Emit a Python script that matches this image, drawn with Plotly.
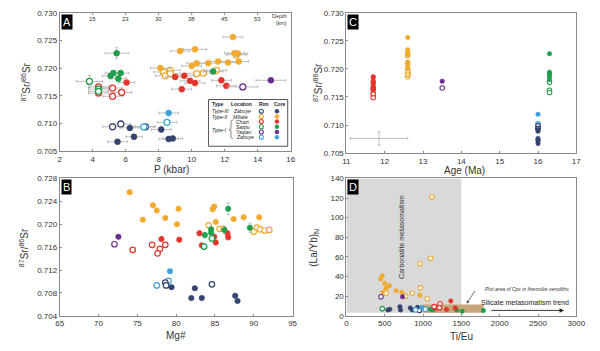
import plotly.graph_objects as go

# ---------------- colours ----------------
C_NAVY = "#34446f"
C_ORANGE = "#f0aa2e"
C_RED = "#e5352b"
C_GREEN = "#1f9e4c"
C_PURPLE = "#6a2c8e"
C_LBLUE = "#3ea2da"
C_ERR = "#b0b0b0"

# ---------------- Panel A : P (kbar) vs 87Sr/86Sr ----------------
a_zab3_core_p = [6.25, 8.15, 6.5, 5.5, 8.6, 8.85]
a_zab3_core_sr = [0.7092, 0.7089, 0.7076, 0.7067, 0.7072, 0.7073]
a_zab3_core_pe = [0.6, 0.6, 0.5, 0.6, 0.6, 0.6]
a_zab3_core_se = [0.0004, 0.0004, 0.0004, 0.0004, 0.0004, 0.0004]
a_zab3_rim_p = [5.2, 5.7, 7.2]
a_zab3_rim_sr = [0.7094, 0.7099, 0.7094]
a_zab3_rim_pe = [0.6, 0.6, 0.6]
a_zab3_rim_se = [0.0005, 0.0005, 0.0004]

a_mib_core_p = [12.5, 9.3, 10.2, 8.1, 10.0, 10.3, 11.0, 11.6, 12.2, 12.85, 12.6, 12.8]
a_mib_core_sr = [0.7256, 0.7231, 0.7234, 0.7200, 0.7204, 0.7209, 0.7209, 0.7212, 0.7210, 0.7212, 0.7227, 0.7226]
a_mib_core_pe = [0.6, 0.6, 0.7, 0.6, 0.6, 0.6, 0.6, 0.6, 0.6, 0.6, 0.6, 0.6]
a_mib_core_se = [0.0003, 0.0003, 0.0003, 0.0004, 0.0003, 0.0003, 0.0003, 0.0003, 0.0003, 0.0003, 0.0005, 0.0005]
a_mib_rim_p = [8.3, 8.4, 8.7, 8.7, 10.3, 10.7, 11.5, 12.7]
a_mib_rim_sr = [0.7193, 0.7186, 0.7196, 0.7190, 0.7190, 0.7191, 0.7196, 0.7224]
a_mib_rim_pe = [0.6, 0.6, 0.6, 0.6, 0.6, 0.6, 0.6, 0.6]
a_mib_rim_se = [0.0004, 0.0004, 0.0004, 0.0004, 0.0004, 0.0004, 0.0004, 0.0004]

a_cha_core_p = [6.05, 9.0, 9.55, 9.4, 9.9, 10.2, 11.8, 12.1]
a_cha_core_sr = [0.7174, 0.7184, 0.7186, 0.7162, 0.7177, 0.7173, 0.7178, 0.7168]
a_cha_core_pe = [0.5, 0.6, 0.6, 0.6, 0.6, 0.6, 0.6, 0.6]
a_cha_core_se = [0.0004, 0.0004, 0.0004, 0.0004, 0.0004, 0.0004, 0.0004, 0.0004]
a_cha_rim_p = [4.35, 4.35, 5.2, 5.2, 5.75]
a_cha_rim_sr = [0.7166, 0.7155, 0.7164, 0.7149, 0.7156]
a_cha_rim_pe = [0.6, 0.6, 0.6, 0.6, 0.6]
a_cha_rim_se = [0.0004, 0.0004, 0.0004, 0.0004, 0.0004]

a_sai_core_p = [5.45, 5.25, 5.08, 5.69, 5.55, 11.3]
a_sai_core_sr = [0.7227, 0.7191, 0.7186, 0.7191, 0.7181, 0.7194]
a_sai_core_pe = [0.7, 0.5, 0.5, 0.5, 0.5, 0.6]
a_sai_core_se = [0.001, 0.0004, 0.0004, 0.0004, 0.0004, 0.0004]
a_sai_rim_p = [3.8, 4.35, 4.35]
a_sai_rim_sr = [0.7176, 0.7162, 0.7158]
a_sai_rim_pe = [0.8, 0.6, 0.6]
a_sai_rim_se = [0.0011, 0.0004, 0.0004]

a_yaq_core_p = [14.8]
a_yaq_core_sr = [0.7178]
a_yaq_core_pe = [0.9]
a_yaq_core_se = [0.0003]
a_yaq_rim_p = [13.1]
a_yaq_rim_sr = [0.7166]
a_yaq_rim_pe = [0.9]
a_yaq_rim_se = [0.0003]

a_zab1_core_p = [8.6]
a_zab1_core_sr = [0.7119]
a_zab1_core_pe = [0.6]
a_zab1_core_se = [0.0004]
a_zab1_rim_p = [8.5, 7.1]
a_zab1_rim_sr = [0.7102, 0.7094]
a_zab1_rim_pe = [0.6, 0.6]
a_zab1_rim_se = [0.0004, 0.0004]

depth_tick_p = [4, 6, 8, 10, 12, 14]
depth_tick_labels = ["15", "23", "30", "38", "45", "53"]

# ---------------- Panel C : Age of each location ----------------
age_cha = 11.7
age_mib = 12.6
age_yaq = 13.5
age_zab = 16.0
age_sai = 16.3
c_err_age = [11.85]
c_err_sr = [0.7076]
c_err_age_e = [0.75]
c_err_sr_e = [0.0012]

# ---------------- Panel B : Mg# vs 87Sr/86Sr ----------------
b_mib_core_mg = [74.0, 77.0, 77.5, 80.3, 75.7, 78.6, 80.1, 84.7, 84.9, 85.1, 87.4, 88.7, 90.7]
b_mib_core_sr = [0.7256, 0.7233, 0.7224, 0.7227, 0.7208, 0.7211, 0.7200, 0.7226, 0.7231, 0.7204, 0.7209, 0.7212, 0.7212]
b_mib_rim_mg = [84.2, 85.6, 86.1, 90.0, 90.4, 90.8, 91.4, 92.0]
b_mib_rim_sr = [0.7198, 0.7192, 0.7192, 0.7187, 0.7194, 0.7191, 0.7189, 0.7190]
b_sai_core_mg = [86.7, 83.7, 84.5, 84.5, 86.2, 89.5]
b_sai_core_sr = [0.7227, 0.7181, 0.7191, 0.7185, 0.7190, 0.7194]
b_sai_core_se = [0.001, 0.0005, 0.0004, 0.0004, 0.0006, 0.0008]
b_sai_rim_mg = [83.6, 84.6]
b_sai_rim_sr = [0.7161, 0.7175]
b_cha_core_mg = [78.1, 80.4, 83.0, 83.3, 84.9, 85.1, 86.6, 86.7]
b_cha_core_sr = [0.7174, 0.7173, 0.7184, 0.7163, 0.7178, 0.7168, 0.7184, 0.7177]
b_cha_rim_mg = [74.4, 76.9, 77.9, 77.6, 78.6]
b_cha_rim_sr = [0.7155, 0.7164, 0.7157, 0.7149, 0.7164]
b_yaq_core_mg = [72.55]
b_yaq_core_sr = [0.7178]
b_yaq_rim_mg = [72.05]
b_yaq_rim_sr = [0.7165]
b_zab1_core_mg = [79.2]
b_zab1_core_sr = [0.7118]
b_zab1_rim_mg = [77.5, 79.0]
b_zab1_rim_sr = [0.7093, 0.7101]
b_zab3_rim_mg = [78.6, 78.7, 84.6]
b_zab3_rim_sr = [0.7098, 0.7093, 0.7095]
b_zab3_core_mg = [79.4, 82.4, 81.95, 83.3, 87.6, 87.9]
b_zab3_core_sr = [0.7090, 0.7088, 0.7071, 0.7071, 0.7075, 0.7066]

# ---------------- Panel D : Ti/Eu vs (La/Yb)N ----------------
d_mib_core_x = [447, 468, 477, 502, 519, 562, 647, 723, 957]
d_mib_core_y = [37.5, 40.8, 24, 33, 28, 30.6, 25.6, 24, 21]
d_mib_rim_x = [1115, 1098, 957, 860, 966, 1055, 519, 774]
d_mib_rim_y = [121, 58.7, 53, 23, 28.5, 17.3, 22.9, 20]
d_yaq_core_x = [732]
d_yaq_core_y = [19.4]
d_yaq_rim_x = [451]
d_yaq_rim_y = [19.4]
d_sai_rim_x = [468]
d_sai_rim_y = [7.3]
d_sai_core_x = [1098, 1128, 1438, 1511, 1787]
d_sai_core_y = [6.6, 6.0, 6.0, 4.6, 5.3]
d_cha_core_x = [1362, 1421, 1306, 1170]
d_cha_core_y = [15, 8, 6.3, 7.6]
d_cha_rim_x = [1145, 1221, 1213]
d_cha_rim_y = [9.3, 12.3, 8.3]
d_zab3_core_x = [540, 566, 698, 706, 834, 928, 860]
d_zab3_core_y = [6.0, 6.6, 9.3, 6.0, 8.0, 8.6, 6.0]
d_zab3_rim_x = [953]
d_zab3_rim_y = [5.5]
d_zab1_core_x = [987]
d_zab1_core_y = [8.6]
d_zab1_rim_x = [902, 1030]
d_zab1_rim_y = [6.0, 6.6]

carb_field_x = [0, 1500]
carb_field_y = [3, 140]
cpx_field_x = [1000, 1790]
cpx_field_y = [3, 11.6]

fig = go.Figure()

FONT = "Liberation Sans, Arial, sans-serif"


def add(xa, ya, x, y, color, filled, size, ex=None, ey=None, lw=1.3):
    marker = dict(size=size, color=color if filled else "white",
                  line=dict(color=color, width=0.5 if filled else lw))
    kw = {}
    if ex is not None:
        kw["error_x"] = dict(type="data", array=ex, visible=True, color=C_ERR, thickness=0.8, width=1.5)
    if ey is not None:
        kw["error_y"] = dict(type="data", array=ey, visible=True, color=C_ERR, thickness=0.8, width=1.5)
    fig.add_trace(go.Scatter(x=x, y=y, mode="markers", marker=marker, xaxis=xa, yaxis=ya,
                             showlegend=False, hoverinfo="skip", **kw))


# Panel A
groupsA = [
    (a_zab3_rim_p, a_zab3_rim_sr, a_zab3_rim_pe, a_zab3_rim_se, C_NAVY, False),
    (a_zab3_core_p, a_zab3_core_sr, a_zab3_core_pe, a_zab3_core_se, C_NAVY, True),
    (a_zab1_rim_p, a_zab1_rim_sr, a_zab1_rim_pe, a_zab1_rim_se, C_LBLUE, False),
    (a_zab1_core_p, a_zab1_core_sr, a_zab1_core_pe, a_zab1_core_se, C_LBLUE, True),
    (a_mib_rim_p, a_mib_rim_sr, a_mib_rim_pe, a_mib_rim_se, C_ORANGE, False),
    (a_mib_core_p, a_mib_core_sr, a_mib_core_pe, a_mib_core_se, C_ORANGE, True),
    (a_cha_rim_p, a_cha_rim_sr, a_cha_rim_pe, a_cha_rim_se, C_RED, False),
    (a_cha_core_p, a_cha_core_sr, a_cha_core_pe, a_cha_core_se, C_RED, True),
    (a_sai_rim_p, a_sai_rim_sr, a_sai_rim_pe, a_sai_rim_se, C_GREEN, False),
    (a_sai_core_p, a_sai_core_sr, a_sai_core_pe, a_sai_core_se, C_GREEN, True),
    (a_yaq_rim_p, a_yaq_rim_sr, a_yaq_rim_pe, a_yaq_rim_se, C_PURPLE, False),
    (a_yaq_core_p, a_yaq_core_sr, a_yaq_core_pe, a_yaq_core_se, C_PURPLE, True),
]
for x, y, ex, ey, col, fl in groupsA:
    add("x", "y", x, y, col, fl, 6, ex, ey)

# Panel C
fig.add_trace(go.Scatter(x=c_err_age, y=c_err_sr, mode="markers", marker=dict(size=1, color=C_ERR),
                         error_x=dict(type="data", array=c_err_age_e, color=C_ERR, thickness=0.8, width=1.5),
                         error_y=dict(type="data", array=c_err_sr_e, color=C_ERR, thickness=0.8, width=1.5),
                         xaxis="x2", yaxis="y2", showlegend=False, hoverinfo="skip"))
groupsC = [
    (age_cha, a_cha_rim_sr, C_RED, False), (age_cha, a_cha_core_sr, C_RED, True),
    (age_mib, a_mib_rim_sr, C_ORANGE, False), (age_mib, a_mib_core_sr, C_ORANGE, True),
    (age_yaq, a_yaq_rim_sr, C_PURPLE, False), (age_yaq, a_yaq_core_sr, C_PURPLE, True),
    (age_zab, a_zab1_rim_sr, C_LBLUE, False), (age_zab, a_zab1_core_sr, C_LBLUE, True),
    (age_zab, a_zab3_rim_sr, C_NAVY, False), (age_zab, a_zab3_core_sr, C_NAVY, True),
    (age_sai, a_sai_rim_sr, C_GREEN, False), (age_sai, a_sai_core_sr, C_GREEN, True),
]
for age, sr, col, fl in groupsC:
    add("x2", "y2", [age] * len(sr), sr, col, fl, 4.5, lw=1.1)

# Panel B
groupsB = [
    (b_mib_core_mg, b_mib_core_sr, C_ORANGE, True, None),
    (b_mib_rim_mg, b_mib_rim_sr, C_ORANGE, False, None),
    (b_cha_core_mg, b_cha_core_sr, C_RED, True, [0.0004] * len(b_cha_core_sr)),
    (b_cha_rim_mg, b_cha_rim_sr, C_RED, False, [0.0004] * len(b_cha_rim_sr)),
    (b_sai_core_mg, b_sai_core_sr, C_GREEN, True, b_sai_core_se),
    (b_sai_rim_mg, b_sai_rim_sr, C_GREEN, False, [0.0005] * len(b_sai_rim_sr)),
    (b_yaq_core_mg, b_yaq_core_sr, C_PURPLE, True, None),
    (b_yaq_rim_mg, b_yaq_rim_sr, C_PURPLE, False, None),
    (b_zab1_core_mg, b_zab1_core_sr, C_LBLUE, True, None),
    (b_zab1_rim_mg, b_zab1_rim_sr, C_LBLUE, False, None),
    (b_zab3_rim_mg, b_zab3_rim_sr, C_NAVY, False, [0.0004] * len(b_zab3_rim_sr)),
    (b_zab3_core_mg, b_zab3_core_sr, C_NAVY, True, None),
]
for x, y, col, fl, ey in groupsB:
    add("x3", "y3", x, y, col, fl, 5.5, None, ey, lw=1.2)

# Panel D
groupsD = [
    (d_mib_core_x, d_mib_core_y, C_ORANGE, True), (d_mib_rim_x, d_mib_rim_y, C_ORANGE, False),
    (d_yaq_core_x, d_yaq_core_y, C_PURPLE, True), (d_yaq_rim_x, d_yaq_rim_y, C_PURPLE, False),
    (d_sai_rim_x, d_sai_rim_y, C_GREEN, False), (d_sai_core_x, d_sai_core_y, C_GREEN, True),
    (d_cha_core_x, d_cha_core_y, C_RED, True), (d_cha_rim_x, d_cha_rim_y, C_RED, False),
    (d_zab3_core_x, d_zab3_core_y, C_NAVY, True), (d_zab3_rim_x, d_zab3_rim_y, C_NAVY, False),
    (d_zab1_core_x, d_zab1_core_y, C_LBLUE, True), (d_zab1_rim_x, d_zab1_rim_y, C_LBLUE, False),
]
for x, y, col, fl in groupsD:
    add("x4", "y4", x, y, col, fl, 4.5, lw=1.1)

# Legend markers (auxiliary axes over the legend box)
leg_rows_y = [0.75, 0.635, 0.527, 0.417, 0.306, 0.194]
leg_cols = [C_NAVY, C_ORANGE, C_RED, C_GREEN, C_PURPLE, C_LBLUE]
for yy, col in zip(leg_rows_y, leg_cols):
    add("x5", "y5", [0.667], [yy], col, False, 4, lw=1.1)
    add("x5", "y5", [0.864], [yy], col, True, 4)

# ---------------- layout ----------------
def W(px):
    return px / 600.0


def H(py):
    return 1 - py / 351.0


axis_common = dict(showline=True, mirror=True, linecolor="#8a8a8a", linewidth=1,
                   ticks="inside", ticklen=2, tickcolor="#8a8a8a", showgrid=False, zeroline=False,
                   tickfont=dict(family=FONT, size=8, color="#333"))

layout = dict(
    width=600, height=351, margin=dict(l=0, r=0, t=0, b=0),
    paper_bgcolor="white", plot_bgcolor="white", showlegend=False,
    font=dict(family=FONT, color="#222"),
    xaxis=dict(domain=[W(57), W(293)], range=[2, 16], tickvals=[2, 4, 6, 8, 10, 12, 14, 16], anchor="y", **axis_common),
    yaxis=dict(domain=[H(151), H(9)], range=[0.705, 0.730], tickvals=[0.705, 0.710, 0.715, 0.720, 0.725, 0.730],
               tickformat=".3f", anchor="x", **axis_common),
    xaxis2=dict(domain=[W(350), W(585)], range=[11, 17], dtick=1, anchor="y2", **axis_common),
    yaxis2=dict(domain=[H(153), H(9)], range=[0.705, 0.730], tickvals=[0.705, 0.710, 0.715, 0.720, 0.725, 0.730],
                tickformat=".3f", anchor="x2", **axis_common),
    xaxis3=dict(domain=[W(57), W(295)], range=[65, 95], dtick=5, anchor="y3", **axis_common),
    yaxis3=dict(domain=[H(320), H(179)], range=[0.704, 0.728], dtick=0.004, tickformat=".3f", anchor="x3", **axis_common),
    xaxis4=dict(domain=[W(350), W(585)], range=[0, 3000], dtick=500, anchor="y4", **axis_common),
    yaxis4=dict(domain=[H(320), H(179)], range=[0, 140], dtick=20, anchor="x4", **axis_common),
    xaxis5=dict(domain=[W(209), W(290)], range=[0, 1], visible=False, anchor="y5"),
    yaxis5=dict(domain=[H(146), H(98)], range=[0, 1], visible=False, anchor="x5"),
)
fig.update_layout(**layout)

shapes = []
annots = []


def note(text, px, py, size, xanchor="center", yanchor="middle", angle=0, color="#333", **kw):
    annots.append(dict(x=W(px), y=H(py), xref="paper", yref="paper", text=text, showarrow=False,
                       xanchor=xanchor, yanchor=yanchor, textangle=angle,
                       font=dict(size=size, family=FONT, color=color), **kw))


# Panel D fields
shapes.append(dict(type="rect", xref="x4", yref="y4", x0=carb_field_x[0], x1=carb_field_x[1],
                   y0=carb_field_y[0], y1=carb_field_y[1], fillcolor="#d9d9da", line=dict(width=0), layer="below"))
shapes.append(dict(type="rect", xref="x4", yref="y4", x0=cpx_field_x[0], x1=cpx_field_x[1],
                   y0=cpx_field_y[0], y1=cpx_field_y[1], fillcolor="#c9a57a", line=dict(width=0), layer="below"))

# Depth ticks on top of panel A
for p, lab in zip(depth_tick_p, depth_tick_labels):
    shapes.append(dict(type="line", xref="x", yref="paper", x0=p, x1=p, y0=H(9), y1=H(11.5),
                       line=dict(color="#8a8a8a", width=1)))
    annots.append(dict(x=p, y=H(15.5), xref="x", yref="paper", text=lab, showarrow=False,
                       xanchor="center", yanchor="middle",
                       font=dict(size=6, family=FONT, color="#333")))
note("Depth<br>(km)", 291, 16, 5.5, xanchor="right", align="right")

# Panel letters
for lab, px, py in [("A", 58, 10), ("C", 351, 10), ("B", 58, 180), ("D", 351, 180)]:
    note(lab, px, py, 11, xanchor="left", yanchor="top", color="white", bgcolor="black", borderpad=1)

# Axis titles
sr_title = "<sup>87</sup>Sr/<sup>86</sup>Sr"
for txt, px, py in [("P (kbar)", 171, 169.5), ("Age (Ma)", 471, 171), ("Mg#", 176, 340), ("Ti/Eu", 468, 341)]:
    note(txt, px, py, 10)
for txt, px, py in [(sr_title, 22, 80), (sr_title, 321, 81), (sr_title, 20, 250), ("(La/Yb)<sub>N</sub>", 316, 250)]:
    note(txt, px, py, 10, angle=-90)

# Legend box in panel A
shapes.append(dict(type="rect", xref="paper", yref="paper", x0=W(209), x1=W(290), y0=H(146), y1=H(98),
                   line=dict(color="#555", width=1), fillcolor="rgba(0,0,0,0)"))
for txt, px in [("<b>Type</b>", 211), ("<b>Location</b>", 230), ("<b>Rim</b>", 259), ("<b>Core</b>", 274)]:
    note(txt, px, 102.5, 5, xanchor="left", color="#222")
leg_rows_py = [110, 115.5, 120.7, 126, 131.3, 136.7]
leg_locs = ["<i>Zabuye</i>", "<i>Mibale</i>", "<i>Chazi</i>", "<i>Saiipu</i>", "Yaqian", "<i>Zabuye</i>"]
leg_loc_x = [232, 232, 235, 235, 235, 235]
for py, loc, lx in zip(leg_rows_py, leg_locs, leg_loc_x):
    note(loc, lx, py, 5, xanchor="left", color="#222")
for txt, py in [("<i>Type-III</i>", 110), ("<i>Type-II</i>", 115.5), ("<i>Type-I</i>", 129)]:
    note(txt, 210.5, py, 5, xanchor="left", color="#222")
# bracket for Type-I
bx = W(232)
shapes.append(dict(type="path", xref="paper", yref="paper",
                   path=f"M {W(234)},{H(119)} L {bx},{H(120)} L {bx},{H(128)} L {W(230)},{H(129)} L {bx},{H(130)} "
                        f"L {bx},{H(137)} L {W(234)},{H(138)}",
                   line=dict(color="#555", width=0.7)))

# Panel D texts
annots.append(dict(x=720, y=80, xref="x4", yref="y4", text="Carbonatite metasomatism", textangle=-90,
                   xanchor="center", yanchor="middle",
                   showarrow=False, font=dict(size=7, family=FONT, color="#333")))
annots.append(dict(x=2360, y=27, xref="x4", yref="y4", text="<i>Plot area of Cpx in lherzolite xenoliths</i>",
                   xanchor="center", yanchor="middle",
                   showarrow=False, font=dict(size=5, family=FONT, color="#333")))
annots.append(dict(x=2330, y=13.5, xref="x4", yref="y4", text="Silicate metasomatism trend",
                   xanchor="center", yanchor="middle",
                   showarrow=False, font=dict(size=7, family=FONT, color="#222")))
annots.append(dict(x=1570, y=12.5, xref="x4", yref="y4", ax=1690, ay=27, axref="x4", ayref="y4", text="",
                   showarrow=True, arrowhead=2, arrowsize=0.8, arrowwidth=0.7, arrowcolor="#333"))
annots.append(dict(x=2840, y=5.5, xref="x4", yref="y4", ax=1870, ay=5.5, axref="x4", ayref="y4", text="",
                   showarrow=True, arrowhead=2, arrowsize=1, arrowwidth=0.9, arrowcolor="#222"))

fig.update_layout(shapes=shapes, annotations=annots)
fig.write_html("out.html")
